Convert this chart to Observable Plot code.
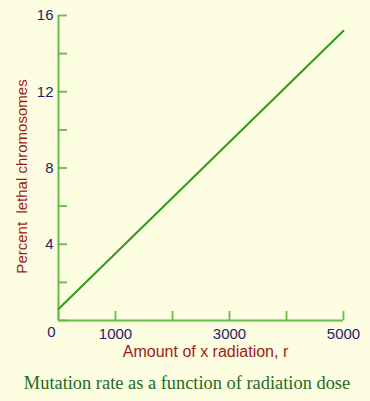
<!DOCTYPE html>
<html><head><meta charset="utf-8">
<script src="https://cdn.jsdelivr.net/npm/d3@7"></script>
<script src="https://cdn.jsdelivr.net/npm/@observablehq/plot@0.6"></script>
<style>
html,body{margin:0;padding:0;background:#fdfde1;}
#chart{width:370px;height:365px;}
#chart svg{display:block;}
#caption{width:370px;height:36px;line-height:36px;padding-left:4px;box-sizing:border-box;font-family:"Liberation Serif",serif;font-size:18.4px;color:#1f6b1f;text-align:center;white-space:nowrap;}
</style></head><body>
<div id="chart"></div>
<div id="caption"></div>
<script>
const doseR = [0, 5000];
const percentLethal = [0.6, 15.2];
const yTicks = [0, 2, 4, 6, 8, 10, 12, 14, 16];
const yTickLabels = [4, 8, 12, 16];
const xTicks = [0, 1000, 2000, 3000, 4000, 5000];
const xTickLabels = [1000, 3000, 5000];
const xLabel = "Amount of x radiation, r";
const yLabel = "Percent\u00a0 lethal chromosomes";
const captionText = "Mutation rate as a function of radiation dose";

const data = doseR.map((d, i) => ({dose: d, pct: percentLethal[i]}));
const axisGreen = "#66bc46";
const lineGreen = "#2f9a1c";
const tickText = "#2a1a6a";
const labelRed = "#9e1b1b";
const fmt = d => String(d);

const chart = Plot.plot({
  width: 370,
  height: 365,
  marginLeft: 58,
  marginRight: 27,
  marginTop: 15,
  marginBottom: 45,
  style: {background: "transparent", fontFamily: "'Liberation Sans', Arial, sans-serif", fontSize: "15px", overflow: "visible"},
  x: {domain: [0, 5000]},
  y: {domain: [0, 16]},
  marks: [
    Plot.axisY({ticks: yTicks, tickSize: -9, tickFormat: () => "", label: null, stroke: axisGreen, strokeWidth: 1.8}),
    Plot.axisY({ticks: yTickLabels, tickSize: 0, tickPadding: 5, tickFormat: fmt, label: null, fill: tickText, fontSize: 15}),
    Plot.axisX({ticks: xTicks, tickSize: -9, tickFormat: () => "", label: null, stroke: axisGreen, strokeWidth: 1.8}),
    Plot.axisX({ticks: xTickLabels, tickSize: 0, tickPadding: 8, tickFormat: fmt, label: null, fill: tickText, fontSize: 15}),
    Plot.axisX({ticks: [0], tickSize: 0, tickPadding: 6, dx: -7, tickFormat: fmt, label: null, fill: tickText, fontSize: 15}),
    Plot.ruleX([0], {stroke: axisGreen, strokeWidth: 2}),
    Plot.ruleY([0], {stroke: axisGreen, strokeWidth: 2}),
    Plot.line(data, {x: "dose", y: "pct", stroke: lineGreen, strokeWidth: 2}),
    Plot.text([xLabel], {text: d => d, frameAnchor: "bottom", textAnchor: "middle", dy: 36, dx: 4.5, fill: labelRed, fontSize: 16}),
    Plot.text([yLabel], {text: d => d, frameAnchor: "left", textAnchor: "middle", rotate: -90, dx: -36, dy: 8.5, fill: labelRed, fontSize: 15})
  ]
});
document.getElementById("chart").appendChild(chart);
document.getElementById("caption").textContent = captionText;
</script>
</body></html>
